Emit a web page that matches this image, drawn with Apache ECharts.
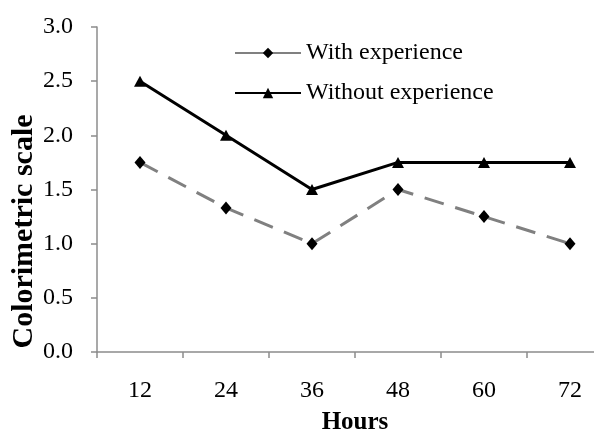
<!DOCTYPE html>
<html>
<head>
<meta charset="utf-8">
<script src="https://cdn.jsdelivr.net/npm/echarts@6/dist/echarts.min.js"></script>
<style>
html,body{margin:0;padding:0;background:#fff;width:594px;height:432px;overflow:hidden;}
#c{width:613px;height:432px;}
</style>
</head>
<body>
<div id="c"></div>
<script>
const categories = ['12', '24', '36', '48', '60', '72'];
const withExperience = [1.75, 1.33, 1.0, 1.5, 1.25, 1.0];
const withoutExperience = [2.5, 2.0, 1.5, 1.75, 1.75, 1.75];
const seriesNames = ['With experience', 'Without experience'];
const yTicks = { min: 0, max: 3, interval: 0.5 };

const font = 'Liberation Serif, Times New Roman, serif';
const chart = echarts.init(document.getElementById('c'), null, { renderer: 'canvas' });
chart.setOption({
  animation: false,
  backgroundColor: '#fff',
  grid: { left: 97, right: 0, top: 27, bottom: 80, containLabel: false, outerBoundsMode: 'none' },
  legend: {
    orient: 'vertical',
    left: 229,
    top: 36,
    itemWidth: 66,
    itemHeight: 13,
    itemGap: 16,
    textStyle: { fontFamily: font, fontSize: 24, color: '#000', padding: [0, 0, 0, 0] },
    data: [
      { name: seriesNames[0], lineStyle: { type: 'solid' } },
      { name: seriesNames[1] }
    ]
  },
  xAxis: {
    type: 'category',
    data: categories,
    boundaryGap: true,
    name: 'Hours',
    nameLocation: 'middle',
    nameGap: 58,
    nameMoveOverlap: false,
    nameTextStyle: { fontFamily: font, fontSize: 25, fontWeight: 'bold', color: '#000' },
    axisLine: { lineStyle: { color: '#8c8c8c', width: 1.5 } },
    axisTick: { show: true, length: 6, alignWithLabel: false, lineStyle: { color: '#8c8c8c', width: 1.5 } },
    axisLabel: { fontFamily: font, fontSize: 24, color: '#000', margin: 27 },
    splitLine: { show: false }
  },
  yAxis: {
    type: 'value',
    min: yTicks.min,
    max: yTicks.max,
    interval: yTicks.interval,
    name: 'Colorimetric scale',
    nameLocation: 'middle',
    nameGap: 58,
    nameMoveOverlap: false,
    nameTextStyle: { fontFamily: font, fontSize: 30, fontWeight: 'bold', color: '#000', padding: [0, 84, 0, 0] },
    axisLine: { show: true, lineStyle: { color: '#8c8c8c', width: 1.5 } },
    axisTick: { show: true, length: 6, lineStyle: { color: '#8c8c8c', width: 1.5 } },
    axisLabel: { fontFamily: font, fontSize: 24, color: '#000', margin: 24, formatter: v => v.toFixed(1) },
    splitLine: { show: false }
  },
  series: [
    {
      name: seriesNames[0],
      type: 'line',
      data: withExperience,
      symbol: 'diamond',
      symbolSize: [11, 13],
      itemStyle: { color: '#000' },
      lineStyle: { color: '#808080', width: 3, type: [20, 12] },
      z: 2
    },
    {
      name: seriesNames[1],
      type: 'line',
      data: withoutExperience,
      symbol: 'triangle',
      symbolSize: [12, 11],
      itemStyle: { color: '#000' },
      lineStyle: { color: '#000', width: 3 },
      z: 3
    }
  ]
});
</script>
</body>
</html>
